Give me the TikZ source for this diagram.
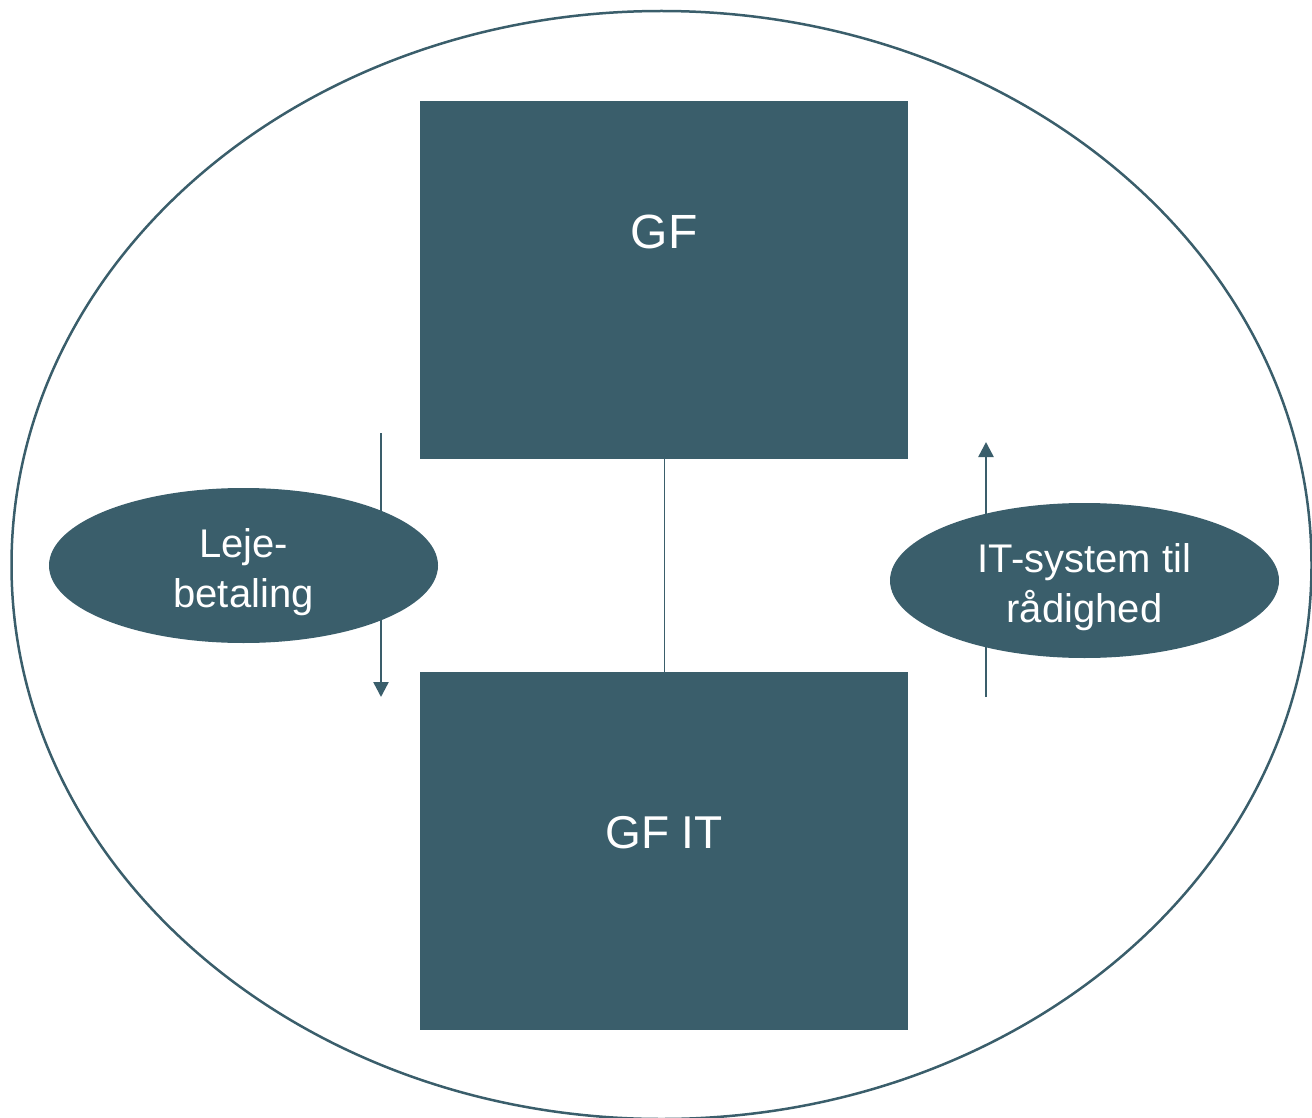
\documentclass[tikz,border=0pt]{standalone}
\usepackage{fontspec}
\setmainfont{Liberation Sans}
\usetikzlibrary{shapes.geometric,arrows.meta}
\definecolor{teal}{RGB}{58,94,107}
\begin{document}
\begin{tikzpicture}[x=1pt,y=-1pt,
  box/.style={fill=teal,draw=none,minimum width=488pt,minimum height=358pt,inner sep=0pt},
  oval/.style={ellipse,fill=teal,draw=none,minimum width=389pt,minimum height=155pt,inner sep=0pt},
  ovaltext/.style={text=white,font=\fontsize{40}{50}\selectfont,align=center,inner sep=0pt},
  flow/.style={draw=teal,line width=2.5pt,-{Triangle[width=15pt,length=15pt]}}]
\useasboundingbox (0,0) rectangle (1312,1118);
\begin{scope}
\clip (0,0) rectangle (1312,1118);
\node[ellipse,draw=teal,line width=2.5pt,minimum width=1300pt,minimum height=1108pt,inner sep=0pt] (outer) at (661.5,565) {};
\end{scope}
\node[box] (gf) at (664,280) {};
\node[box] (gfit) at (664,851) {};
\node[text=white,font=\fontsize{48}{58}\selectfont] (gft) at (664,232) {GF};
\node[text=white,font=\fontsize{46}{56}\selectfont] (gfitt) at (664,833) {GF IT};
\draw[teal,line width=1pt] (gf.south) -- (gfit.north);
\coordinate (a1s) at (381,433);
\coordinate (a1e) at (381,697);
\coordinate (a2s) at (986,697);
\coordinate (a2e) at (986,442);
\draw[flow] (a1s) -- (a1e);
\draw[flow] (a2s) -- (a2e);
\node[oval] (leje) at (243.5,565.5) {};
\node[oval] (it) at (1084.5,580.5) {};
\node[ovaltext] (lejet) at (243.5,572) {Leje-\\betaling};
\node[ovaltext] (itt) at (1084.5,587) {IT-system til\\rådighed};
\end{tikzpicture}
\end{document}
